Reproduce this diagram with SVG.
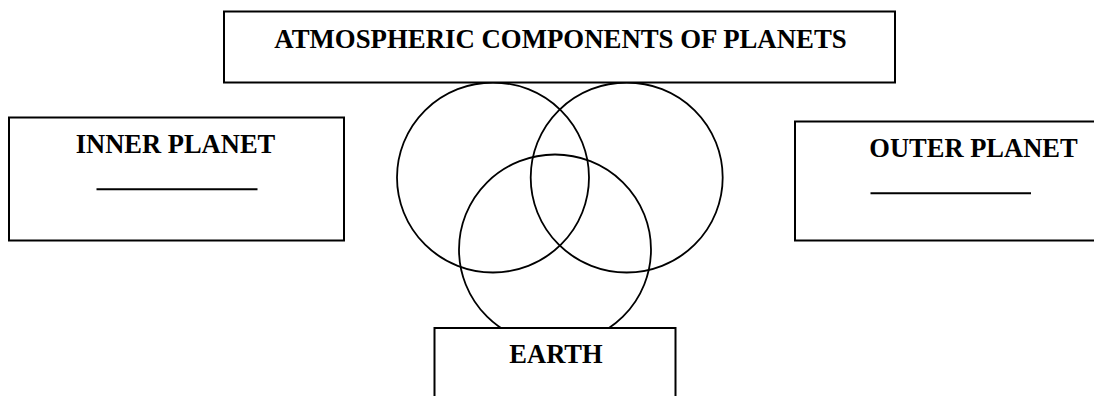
<svg xmlns="http://www.w3.org/2000/svg" width="1094" height="396" viewBox="0 0 1094 396">
<style>
.box{fill:#fff;stroke:#000;stroke-width:2}
.circ{fill:none;stroke:#000;stroke-width:1.8}
.lbl{font-family:"Liberation Serif","Times New Roman",serif;font-weight:bold;font-size:26.5px;fill:#000}
.ttl{font-size:26.8px}
.blank{stroke:#000;stroke-width:2}
</style>
<rect width="1094" height="396" fill="#fff"/>
<g id="venn">
<ellipse class="circ" cx="493" cy="177.5" rx="96" ry="95"/>
<ellipse class="circ" cx="626.7" cy="177.5" rx="96" ry="95"/>
<ellipse class="circ" cx="555" cy="249.5" rx="96" ry="95"/>
</g>
<g id="title">
<rect class="box" x="224" y="11.5" width="671" height="71"/>
<text class="lbl ttl" x="560.5" y="47.5" text-anchor="middle">ATMOSPHERIC COMPONENTS OF PLANETS</text>
</g>
<g id="inner">
<rect class="box" x="9" y="117.5" width="335" height="123"/>
<text class="lbl" x="175.5" y="152.5" text-anchor="middle">INNER PLANET</text>
<line class="blank" x1="96.5" y1="189.3" x2="257.5" y2="189.3"/>
</g>
<g id="outer">
<rect class="box" x="795" y="121.5" width="310" height="119"/>
<text class="lbl" x="973.5" y="156.5" text-anchor="middle">OUTER PLANET</text>
<line class="blank" x1="870.5" y1="193.3" x2="1031" y2="193.3"/>
</g>
<g id="earth">
<rect class="box" x="434.5" y="328" width="241" height="80"/>
<text class="lbl" x="556" y="363.3" text-anchor="middle">EARTH</text>
</g>
<g id="connectors"></g>
</svg>
